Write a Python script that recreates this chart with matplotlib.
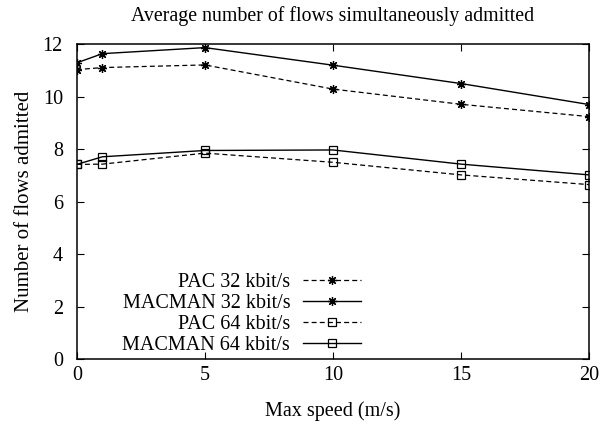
import matplotlib
matplotlib.use('Agg')
import matplotlib.pyplot as plt

# max speed (m/s)
speed = [0, 1, 5, 10, 15, 20]

# number of flows admitted
pac_32 = [11.03, 11.11, 11.21, 10.29, 9.71, 9.24]
macman_32 = [11.29, 11.64, 11.87, 11.20, 10.50, 9.70]
pac_64 = [7.42, 7.43, 7.85, 7.50, 7.02, 6.65]
macman_64 = [7.42, 7.71, 7.95, 7.97, 7.43, 7.02]

labels = ['PAC 32 kbit/s', 'MACMAN 32 kbit/s', 'PAC 64 kbit/s', 'MACMAN 64 kbit/s']

plt.rcParams['font.family'] = ['Liberation Serif', 'DejaVu Serif']
plt.rcParams['font.size'] = 14.5

fig = plt.figure(figsize=(6, 4.25), dpi=100)
ax = fig.add_axes([0.128, 0.155, 0.854, 0.741])

dash = (0, (4, 2.5))
star = (8, 2, 0)  # gnuplot-like asterisk
ax.plot(speed, pac_32, color='black', lw=0.9, ls=dash, marker=star, ms=6.5, mew=0.9, label=labels[0])
ax.plot(speed, macman_32, color='black', lw=1.0, ls='-', marker=star, ms=6.5, mew=0.9, label=labels[1])
ax.plot(speed, pac_64, color='black', lw=0.9, ls=dash, marker='s', ms=5.5, mew=0.9, mfc='none', label=labels[2])
ax.plot(speed, macman_64, color='black', lw=1.0, ls='-', marker='s', ms=5.5, mew=0.9, mfc='none', label=labels[3])

ax.set_xlim(0, 20)
ax.set_ylim(0, 12)
ax.set_xticks([0, 5, 10, 15, 20])
ax.set_yticks([0, 2, 4, 6, 8, 10, 12])
ax.tick_params(direction='in', top=True, right=True, length=5, width=0.8)
ax.tick_params(axis='y', pad=10)
ax.tick_params(axis='x', pad=5)
for s in ax.spines.values():
    s.set_linewidth(1.1)

ax.set_xlabel('Max speed (m/s)', labelpad=12)
ax.set_ylabel('Number of flows admitted', fontsize=15, labelpad=6)
ax.set_title('Average number of flows simultaneously admitted', fontsize=14.3, pad=17)

ax.legend(loc='lower left', bbox_to_anchor=(0.089, 0.012), frameon=False, markerfirst=False,
          handlelength=2.85, handletextpad=0.65, labelspacing=0.1, borderaxespad=0, borderpad=0)

fig.savefig('out.png', dpi=100)
